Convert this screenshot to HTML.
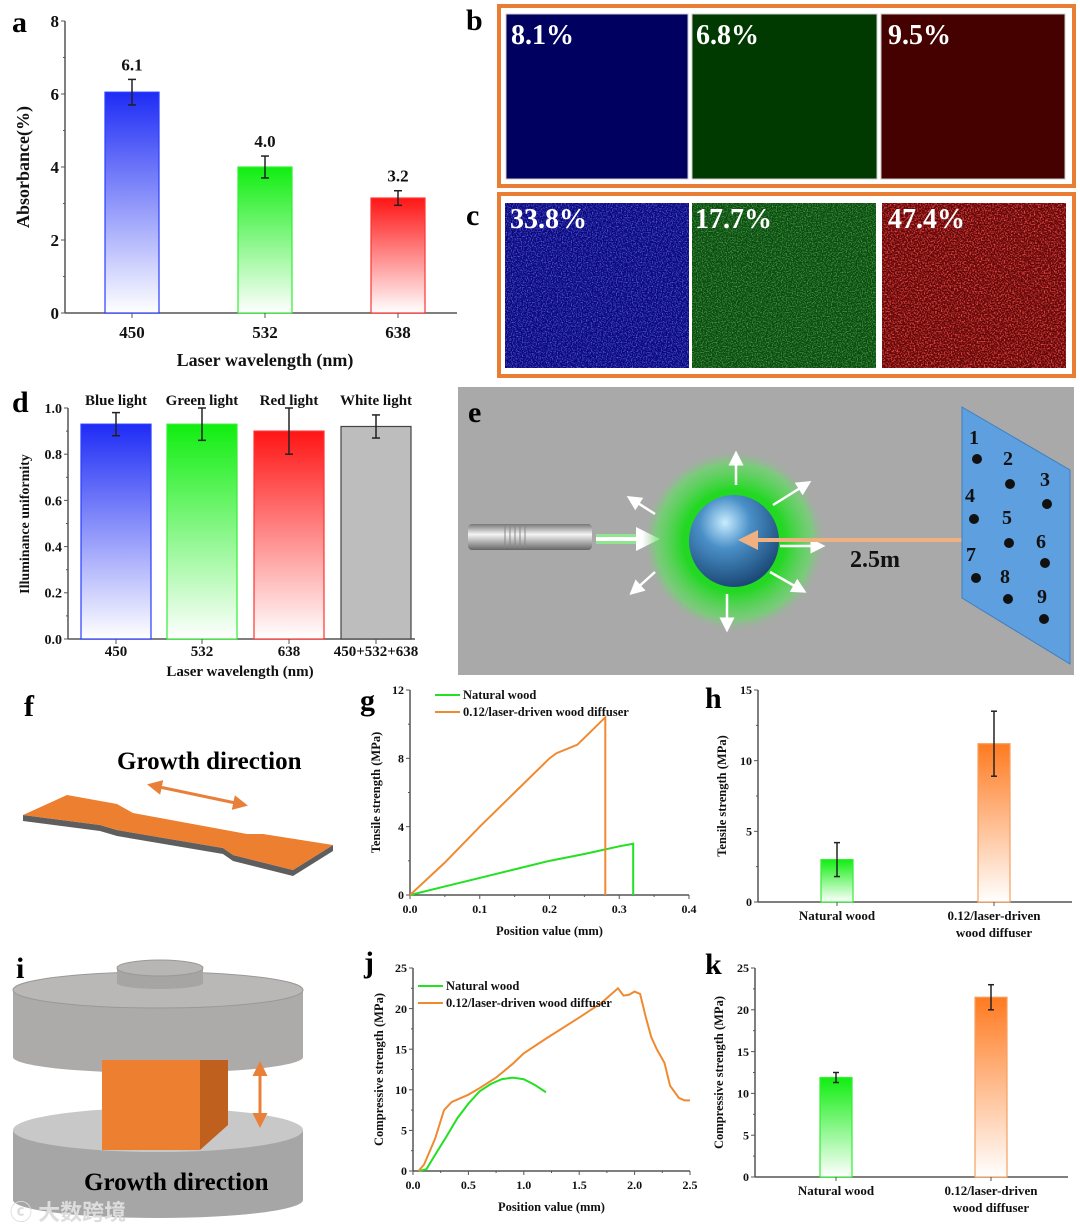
<!DOCTYPE html>
<html><head><meta charset="utf-8"><style>
html,body{margin:0;padding:0;background:#fff;}
svg{display:block;font-family:"Liberation Serif",serif;font-weight:bold;}
</style></head><body>
<svg id="fig" width="1080" height="1229" viewBox="0 0 1080 1229" xmlns="http://www.w3.org/2000/svg">
<defs>
<linearGradient id="gBlue" x1="0" y1="0" x2="0" y2="1"><stop offset="0" stop-color="#1e2cf5"/><stop offset="1" stop-color="#fff"/></linearGradient>
<linearGradient id="gGreen" x1="0" y1="0" x2="0" y2="1"><stop offset="0" stop-color="#10ee10"/><stop offset="1" stop-color="#fff"/></linearGradient>
<linearGradient id="gRed" x1="0" y1="0" x2="0" y2="1"><stop offset="0" stop-color="#ff1515"/><stop offset="1" stop-color="#fff"/></linearGradient>
<linearGradient id="gOrange" x1="0" y1="0" x2="0" y2="1"><stop offset="0" stop-color="#ff7a20"/><stop offset="1" stop-color="#fff"/></linearGradient>
<linearGradient id="gGray" x1="0" y1="0" x2="0" y2="1"><stop offset="0" stop-color="#bdbdbd"/><stop offset="1" stop-color="#bdbdbd"/></linearGradient>
<radialGradient id="sph" cx="0.4" cy="0.3" r="0.7"><stop offset="0" stop-color="#c8ecff"/><stop offset="0.4" stop-color="#4a90c8"/><stop offset="1" stop-color="#1c4a78"/></radialGradient>
<radialGradient id="glow" cx="0.5" cy="0.5" r="0.5"><stop offset="0.55" stop-color="#22d822"/><stop offset="0.85" stop-color="#5ee05e" stop-opacity="0.6"/><stop offset="1" stop-color="#aaa" stop-opacity="0"/></radialGradient>
<linearGradient id="flash" x1="0" y1="0" x2="0" y2="1"><stop offset="0" stop-color="#777"/><stop offset="0.4" stop-color="#f4f4f4"/><stop offset="1" stop-color="#666"/></linearGradient>
<filter id="nB" x="0" y="0" width="1" height="1"><feTurbulence type="fractalNoise" baseFrequency="0.8" numOctaves="1" seed="3"/><feColorMatrix values="0 0 0 0 0.15  0 0 0 0 0.15  0 0 0 0 0.9  2.5 0 0 0 -1.1"/></filter>
<filter id="nG" x="0" y="0" width="1" height="1"><feTurbulence type="fractalNoise" baseFrequency="0.8" numOctaves="1" seed="5"/><feColorMatrix values="0 0 0 0 0.1  0 0 0 0 0.45  0 0 0 0 0.1  2.5 0 0 0 -1.1"/></filter>
<filter id="nR" x="0" y="0" width="1" height="1"><feTurbulence type="fractalNoise" baseFrequency="0.7" numOctaves="1" seed="7"/><feColorMatrix values="0 0 0 0 0.95  0 0 0 0 0.08  0 0 0 0 0.08  3 0 0 0 -1.3"/></filter>
<marker id="ahW" markerWidth="6" markerHeight="6" refX="3" refY="3" orient="auto"><path d="M0,0 L6,3 L0,6 z" fill="#fff"/></marker>
<marker id="ahO" markerWidth="5" markerHeight="5" refX="4" refY="2.5" orient="auto-start-reverse"><path d="M0,0 L5,2.5 L0,5 z" fill="#e8803a"/></marker>
<marker id="ahP" markerWidth="5" markerHeight="5" refX="4" refY="2.5" orient="auto-start-reverse"><path d="M0,0 L5,2.5 L0,5 z" fill="#f0b080"/></marker>
</defs>

<g font-size="30">
<text x="12" y="32">a</text>
<text x="466" y="30">b</text>
<text x="466" y="225">c</text>
<text x="12" y="412">d</text>
<text x="24" y="716">f</text>
<text x="360" y="710">g</text>
<text x="705" y="708">h</text>
<text x="16" y="978">i</text>
<text x="364" y="972">j</text>
<text x="705" y="974">k</text>
</g>

<g>
<rect x="499" y="6" width="575" height="180" fill="#fff" stroke="#ea7d34" stroke-width="4"/>
<rect x="506" y="14" width="182" height="165" fill="#000060" stroke="#ccc"/>
<rect x="692" y="14" width="185" height="165" fill="#003a00" stroke="#ccc"/>
<rect x="881" y="14" width="184" height="165" fill="#450000" stroke="#ccc"/>
<g fill="#fff" font-size="28"><text x="511" y="44">8.1%</text><text x="696" y="44">6.8%</text><text x="888" y="44">9.5%</text></g>
</g>
<g>
<rect x="499" y="194" width="575" height="182" fill="#fff" stroke="#ea7d34" stroke-width="4"/>
<rect x="505" y="203" width="184" height="165" fill="#08087a"/>
<rect x="505" y="203" width="184" height="165" filter="url(#nB)"/>
<rect x="692" y="203" width="184" height="165" fill="#0a4a0e"/>
<rect x="692" y="203" width="184" height="165" filter="url(#nG)"/>
<rect x="882" y="203" width="184" height="165" fill="#5e0505"/>
<rect x="882" y="203" width="184" height="165" filter="url(#nR)"/>
<g fill="#fff" font-size="28"><text x="510" y="228">33.8%</text><text x="695" y="228">17.7%</text><text x="888" y="228">47.4%</text></g>
</g>

<g>
<rect x="458" y="387" width="616" height="288" fill="#a9a9a9"/>
<text x="468" y="422" font-size="30">e</text>
<rect x="468" y="524" width="124" height="26" rx="4" fill="url(#flash)"/>
<g stroke="#888" stroke-width="1"><line x1="505" y1="526" x2="505" y2="548"/><line x1="510" y1="526" x2="510" y2="548"/><line x1="515" y1="526" x2="515" y2="548"/><line x1="520" y1="526" x2="520" y2="548"/><line x1="525" y1="526" x2="525" y2="548"/></g>
<line x1="596" y1="539" x2="650" y2="539" stroke="#8f8" stroke-width="10" opacity="0.7"/>
<line x1="596" y1="539" x2="648" y2="539" stroke="#fff" stroke-width="4" marker-end="url(#ahW)"/>
<circle cx="734" cy="541" r="92" fill="url(#glow)"/>
<g stroke="#fff" stroke-width="2.5" marker-end="url(#ahW)">
<line x1="736" y1="485" x2="736" y2="458"/><line x1="727" y1="594" x2="727" y2="625"/>
<line x1="655" y1="514" x2="633" y2="500"/><line x1="773" y1="505" x2="805" y2="485"/>
<line x1="780" y1="546" x2="818" y2="546"/><line x1="655" y1="572" x2="635" y2="590"/>
<line x1="770" y1="572" x2="800" y2="589"/>
</g>
<ellipse cx="734" cy="541" rx="45" ry="46" fill="url(#sph)"/>
<line x1="742" y1="540" x2="1000" y2="540" stroke="#f0b080" stroke-width="4" marker-start="url(#ahP)" marker-end="url(#ahP)"/>
<text x="850" y="567" font-size="24" fill="#111">2.5m</text>
<polygon points="962,407 1070,470 1070,664 962,598" fill="#5e9fe0" stroke="#3e7fc0"/>
<g font-size="20" fill="#111">
<text x="969" y="444">1</text><circle cx="977" cy="459" r="5"/>
<text x="1003" y="465">2</text><circle cx="1010" cy="484" r="5"/>
<text x="1040" y="486">3</text><circle cx="1047" cy="504" r="5"/>
<text x="965" y="502">4</text><circle cx="974" cy="519" r="5"/>
<text x="1002" y="524">5</text><circle cx="1009" cy="543" r="5"/>
<text x="1036" y="548">6</text><circle cx="1045" cy="563" r="5"/>
<text x="966" y="561">7</text><circle cx="976" cy="578" r="5"/>
<text x="1000" y="583">8</text><circle cx="1008" cy="599" r="5"/>
<text x="1037" y="603">9</text><circle cx="1044" cy="619" r="5"/>
</g>
</g>

<g>
<text x="117" y="769" font-size="25">Growth direction</text>
<line x1="150" y1="785" x2="245" y2="805" stroke="#e8803a" stroke-width="3" marker-start="url(#ahO)" marker-end="url(#ahO)"/>
<polygon points="23,815 23,821 100,831 117,836 223,854 233,861 293,876 333,851 333,845 293,870 233,855 223,848 117,830 100,825" fill="#5e5e5e"/>
<polygon points="23,815 67,795 117,804 133,813 247,834 263,834 333,845 293,870 233,855 223,848 117,830 100,825" fill="#ec7f30"/>
</g>

<g>
<rect x="13" y="1130" width="290" height="70" fill="#a6a6a6"/>
<ellipse cx="158" cy="1200" rx="145" ry="18" fill="#a6a6a6"/>
<ellipse cx="158" cy="1130" rx="145" ry="22" fill="#c8c8c8"/>
<rect x="13" y="990" width="290" height="67" fill="#adaaaa"/>
<ellipse cx="158" cy="1057" rx="145" ry="16" fill="#adaaaa"/>
<ellipse cx="158" cy="990" rx="145" ry="18" fill="#bab7b7" stroke="#999"/>
<rect x="117" y="968" width="86" height="15" fill="#a7a4a4"/>
<ellipse cx="160" cy="983" rx="43" ry="6" fill="#a7a4a4"/>
<ellipse cx="160" cy="968" rx="43" ry="8" fill="#b8b5b5" stroke="#999"/>
<rect x="102" y="1060" width="98" height="90" fill="#ec7f30"/>
<polygon points="200,1060 228,1060 228,1125 200,1150" fill="#c0601f"/>
<line x1="260" y1="1064" x2="260" y2="1125" stroke="#e8803a" stroke-width="3" marker-start="url(#ahO)" marker-end="url(#ahO)"/>
<text x="84" y="1190" font-size="25">Growth direction</text>
<text x="10" y="1220" font-size="22" fill="#ddd" font-family="'Liberation Sans','Noto Sans CJK SC',sans-serif">ⓒ 大数跨境</text>
</g>

<g id="charts"></g>
</svg>
<script>
const aCats = ["450","532","638"];
const aVals = [6.05, 4.0, 3.15];
const aErrs = [0.35, 0.3, 0.2];
const aLabels = ["6.1","4.0","3.2"];
const aTicks = [0,2,4,6,8];
const dCats = ["450","532","638","450+532+638"];
const dVals = [0.93, 0.93, 0.90, 0.92];
const dErrs = [0.05, 0.07, 0.10, 0.05];
const dTop = ["Blue light","Green light","Red light","White light"];
const dTicks = [0,0.2,0.4,0.6,0.8,1.0];
const gTicksX = [0,0.1,0.2,0.3,0.4];
const gTicksY = [0,4,8,12];
const gNatX = [0,0.05,0.1,0.15,0.2,0.25,0.3,0.32,0.32];
const gNatY = [0,0.5,1.0,1.5,2.0,2.4,2.85,3.0,0];
const gLasX = [0,0.05,0.1,0.15,0.2,0.21,0.24,0.28,0.28];
const gLasY = [0,1.9,4.0,6.0,8.0,8.3,8.8,10.4,0];
const hCats = ["Natural wood","0.12/laser-driven|wood diffuser"];
const hVals = [3.0, 11.2];
const hErrs = [1.2, 2.3];
const hTicks = [0,5,10,15];
const jTicksX = [0,0.5,1.0,1.5,2.0,2.5];
const jTicksY = [0,5,10,15,20,25];
const jNatX = [0.05,0.12,0.2,0.3,0.4,0.5,0.6,0.7,0.8,0.9,1.0,1.1,1.2];
const jNatY = [0,0.2,2,4.2,6.5,8.3,9.8,10.7,11.3,11.5,11.3,10.6,9.7];
const jLasX = [0.05,0.1,0.2,0.28,0.35,0.5,0.6,0.75,0.9,1.0,1.2,1.5,1.7,1.85,1.9,1.95,2.0,2.05,2.1,2.15,2.2,2.25,2.27,2.32,2.4,2.45,2.5];
const jLasY = [0,0.8,4,7.5,8.5,9.4,10.2,11.5,13.2,14.5,16.3,18.9,20.7,22.5,21.6,21.7,22.1,21.8,19,16.5,15,13.8,13.3,10.5,9,8.7,8.7];
const kCats = ["Natural wood","0.12/laser-driven|wood diffuser"];
const kVals = [11.9, 21.5];
const kErrs = [0.6, 1.5];
const kTicks = [0,5,10,15,20,25];

const NS="http://www.w3.org/2000/svg";
const root=document.getElementById('charts');
function mk(tag,attrs,parent){const e=document.createElementNS(NS,tag);for(const k in attrs)e.setAttribute(k,attrs[k]);(parent||root).appendChild(e);return e;}
function txt(x,y,s,size,anchor,parent,extra){const t=mk('text',Object.assign({x:x,y:y,'font-size':size,'text-anchor':anchor||'middle',fill:'#111'},extra||{}),parent);t.textContent=s;return t;}
function lin(d0,d1,r0,r1){return v=>r0+(v-d0)/(d1-d0)*(r1-r0);}

function axes(g,x0,x1,y0,y1,sy,ticks,fmt,fs,minor){
  mk('line',{x1:x0,y1:y0,x2:x0,y2:y1,stroke:'#555','stroke-width':1.5},g);
  mk('line',{x1:x0,y1:y0,x2:x1,y2:y0,stroke:'#555','stroke-width':1.5},g);
  ticks.forEach((t,i)=>{const y=sy(t);
    mk('line',{x1:x0-4,y1:y,x2:x0,y2:y,stroke:'#555'},g);
    const l=txt(x0-6,y+fs*0.35,fmt(t),fs,'end',g);
    
    
    if(minor&&i<ticks.length-1){const ym=sy((t+ticks[i+1])/2);mk('line',{x1:x0-2,y1:ym,x2:x0,y2:ym,stroke:'#555'},g);}
  });
}
function errbar(g,x,yt,yb,w){mk('line',{x1:x,y1:yt,x2:x,y2:yb,stroke:'#222','stroke-width':1.5},g);mk('line',{x1:x-w,y1:yt,x2:x+w,y2:yt,stroke:'#222','stroke-width':1.5},g);mk('line',{x1:x-w,y1:yb,x2:x+w,y2:yb,stroke:'#222','stroke-width':1.5},g);}
const fills={b:['url(#gBlue)','#2a3cff'],g:['url(#gGreen)','#33ee33'],r:['url(#gRed)','#ff3333'],o:['url(#gOrange)','#f5a060'],k:['url(#gGray)','#444']};

(function(){
  const g=mk('g',{});
  
  
  const sy=lin(0,8,313,21);
  axes(g,65,457,313,21,sy,aTicks,v=>String(v),17,true);
  const cx=[132,265,398],cols=['b','g','r'];
  aVals.forEach((v,i)=>{
    const r=mk('rect',{x:cx[i]-27,y:sy(v),width:54,height:313-sy(v),fill:fills[cols[i]][0],stroke:fills[cols[i]][1],'stroke-width':1.2},g);
    
    
    errbar(g,cx[i],sy(v+aErrs[i]),sy(v-aErrs[i]),4);
    const l=txt(cx[i],sy(v+aErrs[i])-9,aLabels[i],17,'middle',g);
    
    
    mk('line',{x1:cx[i],y1:313,x2:cx[i],y2:318,stroke:'#555'},g);
    const c=txt(cx[i],338,aCats[i],17,'middle',g);
    
    
  });
  const xt=txt(265,366,'Laser wavelength (nm)',18,'middle',g);
  
  
  const yt=txt(0,0,'Absorbance(%)',18,'middle',g,{transform:'translate(29,167) rotate(-90)'});
  
  
})();

(function(){
  const g=mk('g',{});
  
  
  const sy=lin(0,1,639,408);
  axes(g,68,415,639,408,sy,dTicks,v=>v.toFixed(1),14,true);
  const cx=[116,202,289,376],cols=['b','g','r','k'];
  dVals.forEach((v,i)=>{
    const r=mk('rect',{x:cx[i]-35,y:sy(v),width:70,height:639-sy(v),fill:fills[cols[i]][0],stroke:fills[cols[i]][1],'stroke-width':1.2},g);
    
    
    errbar(g,cx[i],sy(v+dErrs[i]),sy(v-dErrs[i]),4);
    const l=txt(cx[i],405,dTop[i],15,'middle',g);
    
    
    mk('line',{x1:cx[i],y1:639,x2:cx[i],y2:644,stroke:'#555'},g);
    const c=txt(cx[i],656,dCats[i],15,'middle',g);
    
    
  });
  const xt=txt(240,676,'Laser wavelength (nm)',15,'middle',g);
  
  
  const yt=txt(0,0,'Illuminance uniformity',14,'middle',g,{transform:'translate(29,524) rotate(-90)'});
  
  
})();

function lineChart(name,x0,x1,y0,y1,xd,yd,tx,ty,fx,series,xt,yt,ytx,legY){
  const g=mk('g',{});
  
  
  const sx=lin(xd[0],xd[1],x0,x1),sy=lin(yd[0],yd[1],y0,y1);
  axes(g,x0,x1,y0,y1,sy,ty,v=>String(v),12,true);
  tx.forEach((t,i)=>{const x=sx(t);mk('line',{x1:x,y1:y0,x2:x,y2:y0+4,stroke:'#555'},g);
    const l=txt(x,y0+18,fx(t),12,'middle',g);
    
    
    if(i<tx.length-1){const xm=sx((t+tx[i+1])/2);mk('line',{x1:xm,y1:y0,x2:xm,y2:y0+2,stroke:'#555'},g);}});
  series.forEach((s,k)=>{
    const p=mk('polyline',{points:s.x.map((v,i)=>sx(v)+','+sy(s.y[i])).join(' '),fill:'none',stroke:s.c,'stroke-width':2},g);
    
    
    const ly=legY[1]+k*17;
    const ll=mk('line',{x1:legY[0],y1:ly,x2:legY[0]+25,y2:ly,stroke:s.c,'stroke-width':2},g);
    
    
    const lt=txt(legY[0]+28,ly+4,s.label,12.5,'start',g);
    
    
  });
  const a=txt((x0+x1)/2,y0+40,xt,12.5,'middle',g);
  
  
  const b=txt(0,0,yt,12.5,'middle',g,{transform:'translate('+ytx+','+((y0+y1)/2)+') rotate(-90)'});
  
  
}
lineChart('chart-g-tensile-curve',410,689,895,690,[0,0.4],[0,12],gTicksX,gTicksY,v=>v.toFixed(1),
 [{x:gNatX,y:gNatY,c:'#22e022',n:'natural-wood',label:'Natural wood'},{x:gLasX,y:gLasY,c:'#f08a30',n:'diffuser',label:'0.12/laser-driven wood diffuser'}],
 'Position value (mm)','Tensile strength (MPa)',380,[435,695]);
lineChart('chart-j-compressive-curve',413,690,1171,968,[0,2.5],[0,25],jTicksX,jTicksY,v=>v.toFixed(1),
 [{x:jNatX,y:jNatY,c:'#22e022',n:'natural-wood',label:'Natural wood'},{x:jLasX,y:jLasY,c:'#f08a30',n:'diffuser',label:'0.12/laser-driven wood diffuser'}],
 'Position value (mm)','Compressive strength (MPa)',383,[418,986]);

function barChart(name,x0,x1,y0,y1,ymax,ticks,cats,vals,errs,cx,ytitle,ytx){
  const g=mk('g',{});
  
  
  const sy=lin(0,ymax,y0,y1);
  axes(g,x0,x1,y0,y1,sy,ticks,v=>String(v),12,true);
  const cols=['g','o'];
  vals.forEach((v,i)=>{
    const r=mk('rect',{x:cx[i]-16,y:sy(v),width:32,height:y0-sy(v),fill:fills[cols[i]][0],stroke:fills[cols[i]][1],'stroke-width':1.2},g);
    
    
    errbar(g,cx[i],sy(v+errs[i]),sy(v-errs[i]),3);
    mk('line',{x1:cx[i],y1:y0,x2:cx[i],y2:y0+4,stroke:'#555'},g);
    cats[i].split('|').forEach((s,j)=>{const l=txt(cx[i],y0+18+j*17,s,13,'middle',g);
      
      });
  });
  const b=txt(0,0,ytitle,12.5,'middle',g,{transform:'translate('+ytx+','+((y0+y1)/2)+') rotate(-90)'});
  
  
}
barChart('chart-h-tensile-bars',758,1072,902,690,15,hTicks,hCats,hVals,hErrs,[837,994],'Tensile strength (MPa)',726);
barChart('chart-k-compressive-bars',755,1068,1177,968,25,kTicks,kCats,kVals,kErrs,[836,991],'Compressive strength (MPa)',723);
</script>
</body></html>
